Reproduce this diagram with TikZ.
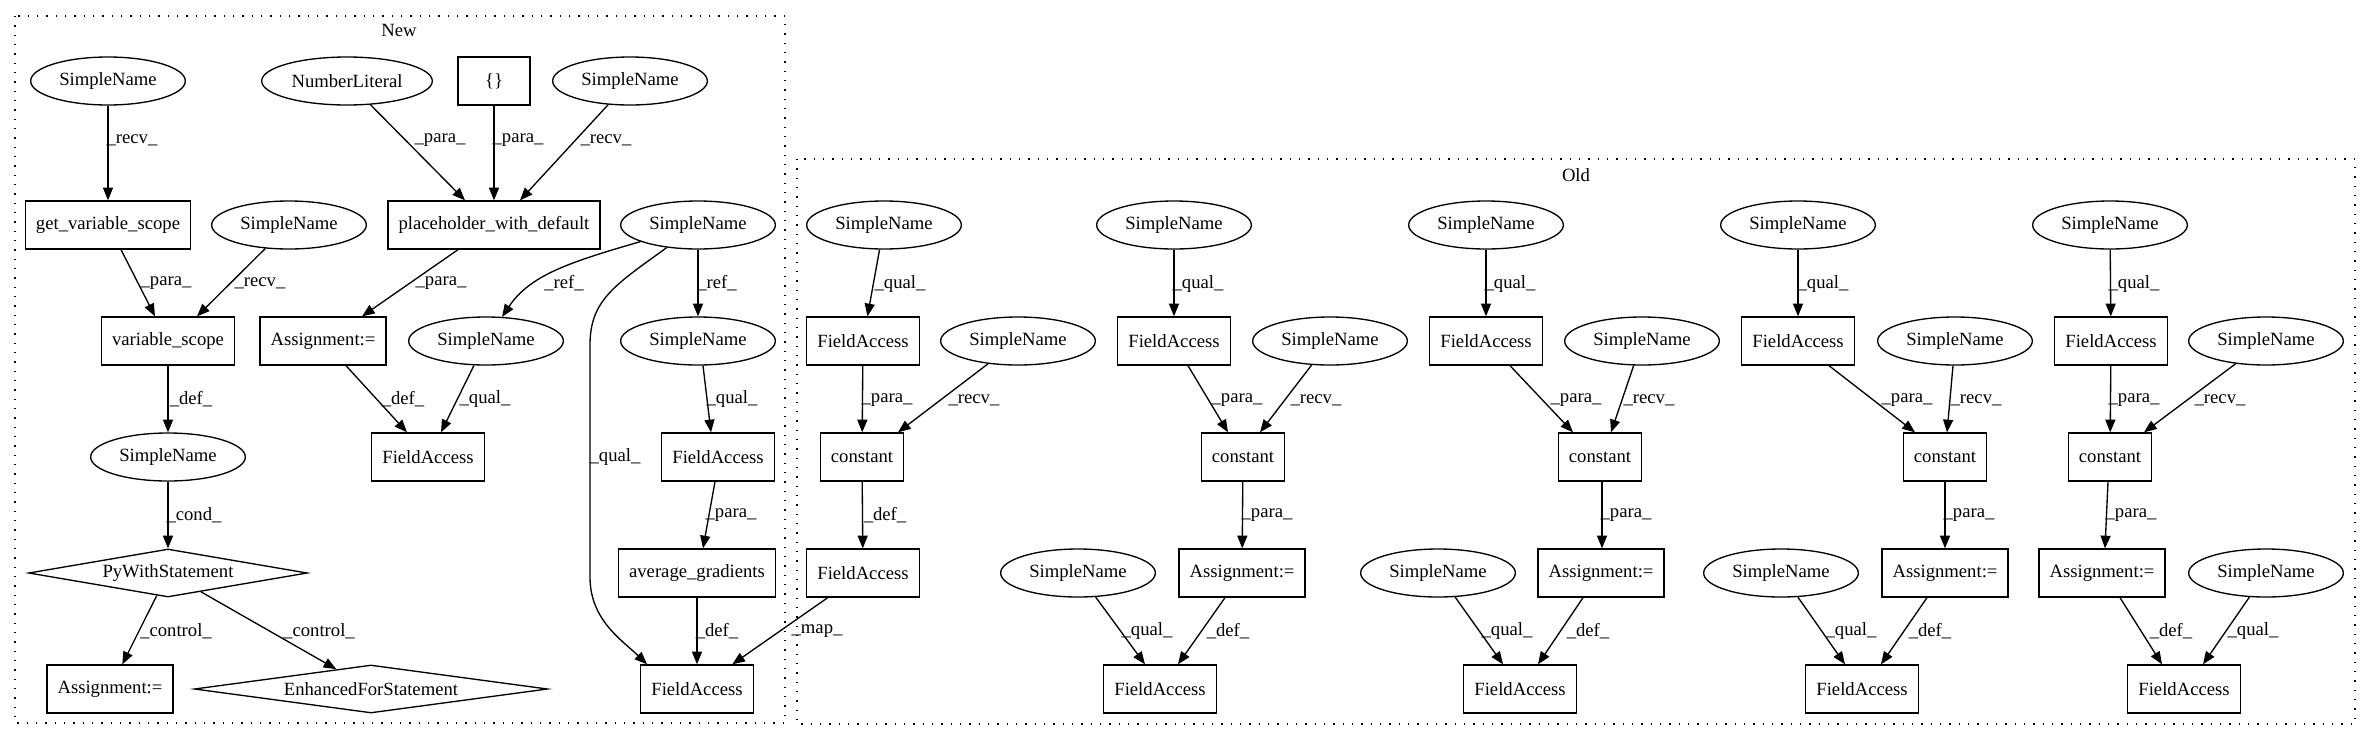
\documentclass[tikz,border=0pt]{standalone}
\usepackage{fontspec}
\setmainfont{Liberation Serif}
\usetikzlibrary{arrows.meta,shapes.geometric,calc}
\begin{document}
\begin{tikzpicture}[x=0.75pt,y=-0.75pt,
  every node/.style={font=\fontsize{14}{16}\selectfont},
  box/.style={draw,line width=1pt,rectangle,minimum height=36pt,minimum width=54pt,inner xsep=8pt,inner ysep=0pt},
  ell/.style={draw,line width=1pt,ellipse,minimum height=36pt,minimum width=116pt,inner sep=0pt},
  dia/.style={draw,line width=1pt,diamond,shape aspect=7,minimum height=36pt,inner sep=0pt},
  conn/.style={draw,line width=1pt,-{Triangle[length=9.5pt,width=7.5pt]}},
  lbl/.style={inner sep=0pt},
  clus/.style={draw,line width=1pt,dash pattern=on 1pt off 6pt}]
\useasboundingbox (0,0) rectangle (2371,740);
\fill[white] (0,0) rectangle (2371,740);
% clusters
\draw[clus] (15,16) rectangle (785,723);
\node[lbl] (tNew) at (399,30) {New};
\draw[clus] (797,159) rectangle (2355,724);
\node[lbl] (tOld) at (1576,175) {Old};
% ---------- New ----------
\node[ell] (snA) at (108,81) {SimpleName};
\node[ell,minimum width=128pt] (nl) at (347,81) {NumberLiteral};
\node[box] (br) at (494,81) {\{\}};
\node[ell] (snB) at (630,81) {SimpleName};
\node[box] (gvs) at (108,225) {get\_variable\_scope};
\node[ell] (snC) at (289,225) {SimpleName};
\node[box] (ph) at (494,225) {placeholder\_with\_default};
\node[ell] (snD) at (698,225) {SimpleName};
\node[box] (vs) at (168,341) {variable\_scope};
\node[box] (asgA) at (323,341) {Assignment:=};
\node[ell] (snE) at (486,341) {SimpleName};
\node[ell] (snF) at (698,341) {SimpleName};
\node[ell] (snG) at (168,457) {SimpleName};
\node[box] (faH) at (428,457) {FieldAccess};
\node[box] (faI) at (718,457) {FieldAccess};
\node[dia,minimum width=209pt] (pyw) at (168,573) {PyWithStatement};
\node[box] (avg) at (697,573) {average\_gradients};
\node[box] (asgB) at (110,689) {Assignment:=};
\node[dia,minimum width=265pt] (efs) at (371,689) {EnhancedForStatement};
\node[box] (faJ) at (697,689) {FieldAccess};
% ---------- Old ----------
\node[ell] (snT1) at (884,225) {SimpleName};
\node[box] (fa1) at (863,341) {FieldAccess};
\node[ell] (snR1) at (1018,341) {SimpleName};
\node[box] (c1) at (862,457) {constant};
\node[box] (faK) at (863,573) {FieldAccess};
\node[ell] (snT2) at (1174,225) {SimpleName};
\node[box] (fa2) at (1174,341) {FieldAccess};
\node[ell] (snR2) at (1330,341) {SimpleName};
\node[box] (c2) at (1243,457) {constant};
\node[box] (asg2) at (1242,573) {Assignment:=};
\node[ell] (snB2) at (1078,573) {SimpleName};
\node[box] (fb2) at (1160,689) {FieldAccess};
\node[ell] (snT3) at (1486,225) {SimpleName};
\node[box] (fa3) at (1486,341) {FieldAccess};
\node[ell] (snR3) at (1642,341) {SimpleName};
\node[box] (c3) at (1600,457) {constant};
\node[box] (asg3) at (1601,573) {Assignment:=};
\node[ell] (snB3) at (1438,573) {SimpleName};
\node[box] (fb3) at (1520,689) {FieldAccess};
\node[ell] (snT4) at (1798,225) {SimpleName};
\node[box] (fa4) at (1798,341) {FieldAccess};
\node[ell] (snR4) at (1955,341) {SimpleName};
\node[box] (c4) at (1945,457) {constant};
\node[box] (asg4) at (1945,573) {Assignment:=};
\node[ell] (snB4) at (1781,573) {SimpleName};
\node[box] (fb4) at (1862,689) {FieldAccess};
\node[ell] (snT5) at (2110,225) {SimpleName};
\node[box] (fa5) at (2111,341) {FieldAccess};
\node[ell] (snR5) at (2266,341) {SimpleName};
\node[box] (c5) at (2110,457) {constant};
\node[box] (asg5) at (2102,573) {Assignment:=};
\node[ell] (snB5) at (2266,573) {SimpleName};
\node[box] (fb5) at (2184,689) {FieldAccess};
% ---------- New edges ----------
\draw[conn] (snA) -- (gvs);
\node[lbl] (l1) at (132,140) {\_recv\_};
\draw[conn] (nl) -- ($(ph.north)+(-29,0)$);
\node[lbl] (l2) at (440,140) {\_para\_};
\draw[conn] (br) -- (ph);
\node[lbl] (l3) at (518,140) {\_para\_};
\draw[conn] (snB) -- ($(ph.north)+(26,0)$);
\node[lbl] (l4) at (606,140) {\_recv\_};
\draw[conn] ($(gvs.south)+(13,0)$) -- ($(vs.north)+(-13,0)$);
\node[lbl] (l5) at (166,283) {\_para\_};
\draw[conn] (snC) -- ($(vs.north)+(29,0)$);
\node[lbl] (l6) at (260,283) {\_recv\_};
\draw[conn] ($(ph.south)+(-36,0)$) -- ($(asgA.north)+(39,0)$);
\node[lbl] (l7) at (441,283) {\_para\_};
\draw[conn] (snD) .. controls (570,262) and (530,275) .. (snE);
\node[lbl] (l8) at (564,283) {\_ref\_};
\draw[conn] (snD) -- (snF);
\node[lbl] (l9) at (717,283) {\_ref\_};
\draw[conn] (snD) .. controls (615,285) and (590,300) .. (590,345) -- (590,577) .. controls (590,620) and (622,640) .. ($(faJ.north west)+(7,0)$);
\node[lbl] (l10) at (615,457) {\_qual\_};
\draw[conn] (vs) -- (snG);
\node[lbl] (l11) at (191,399) {\_def\_};
\draw[conn] ($(asgA.south)+(23,0)$) -- ($(faH.north)+(-21,0)$);
\node[lbl] (l12) at (403,399) {\_def\_};
\draw[conn] (snE) -- ($(faH.north)+(13,0)$);
\node[lbl] (l13) at (485,399) {\_qual\_};
\draw[conn] ($(snF.south)+(5,0)$) -- ($(faI.north)+(-7,0)$);
\node[lbl] (l14) at (732,399) {\_qual\_};
\draw[conn] (snG) -- (pyw);
\node[lbl] (l15) at (194,515) {\_cond\_};
\draw[conn] ($(faI.south)+(-3,0)$) -- ($(avg.north)+(6,0)$);
\node[lbl] (l16) at (731,515) {\_para\_};
\draw[conn] (pyw) -- (asgB);
\node[lbl] (l17) at (176,631) {\_control\_};
\draw[conn] (pyw) -- (efs);
\node[lbl] (l18) at (319,631) {\_control\_};
\draw[conn] (avg) -- (faJ);
\node[lbl] (l19) at (717,631) {\_def\_};
\draw[conn] (faK) -- (faJ);
\node[lbl] (l20) at (817,631) {\_map\_};
% ---------- Old edges ----------
% group 1
\draw[conn] (snT1) -- (fa1);
\node[lbl] (m1) at (900,284) {\_qual\_};
\draw[conn] (fa1) -- (c1);
\node[lbl] (m2) at (887,400) {\_para\_};
\draw[conn] (snR1) -- ($(c1.north)+(36,0)$);
\node[lbl] (m3) at (974,400) {\_recv\_};
\draw[conn] (c1) -- (faK);
\node[lbl] (m4) at (885,515) {\_def\_};
% group 2
\draw[conn] (snT2) -- (fa2);
\node[lbl] (m5) at (1198,284) {\_qual\_};
\draw[conn] ($(fa2.south)+(14,0)$) -- ($(c2.north)+(-15,0)$);
\node[lbl] (m6) at (1237,400) {\_para\_};
\draw[conn] (snR2) -- ($(c2.north)+(17,0)$);
\node[lbl] (m7) at (1316,400) {\_recv\_};
\draw[conn] (c2) -- (asg2);
\node[lbl] (m8) at (1267,515) {\_para\_};
\draw[conn] (snB2) -- ($(fb2.north)+(-15,0)$);
\node[lbl] (m9) at (1147,631) {\_qual\_};
\draw[conn] ($(asg2.south)+(-17,0)$) -- ($(fb2.north)+(18,0)$);
\node[lbl] (m10) at (1228,631) {\_def\_};
% group 3
\draw[conn] (snT3) -- (fa3);
\node[lbl] (m11) at (1510,284) {\_qual\_};
\draw[conn] ($(fa3.south)+(24,0)$) -- ($(c3.north)+(-27,0)$);
\node[lbl] (m12) at (1576,400) {\_para\_};
\draw[conn] (snR3) -- ($(c3.north)+(11,0)$);
\node[lbl] (m13) at (1649,400) {\_recv\_};
\draw[conn] ($(c3.south)+(2,0)$) -- ($(asg3.north)+(1,0)$);
\node[lbl] (m14) at (1626,515) {\_para\_};
\draw[conn] (snB3) -- ($(fb3.north)+(-17,0)$);
\node[lbl] (m15) at (1507,631) {\_qual\_};
\draw[conn] ($(asg3.south)+(-18,0)$) -- ($(fb3.north)+(18,0)$);
\node[lbl] (m16) at (1588,631) {\_def\_};
% group 4
\draw[conn] (snT4) -- (fa4);
\node[lbl] (m17) at (1823,284) {\_qual\_};
\draw[conn] ($(fa4.south)+(31,0)$) -- ($(c4.north)+(-30,0)$);
\node[lbl] (m18) at (1907,400) {\_para\_};
\draw[conn] ($(snR4.south)+(-2,0)$) -- ($(c4.north)+(2,0)$);
\node[lbl] (m19) at (1976,400) {\_recv\_};
\draw[conn] (c4) -- (asg4);
\node[lbl] (m20) at (1969,515) {\_para\_};
\draw[conn] (snB4) -- ($(fb4.north)+(-17,0)$);
\node[lbl] (m21) at (1851,631) {\_qual\_};
\draw[conn] ($(asg4.south)+(-18,0)$) -- ($(fb4.north)+(19,0)$);
\node[lbl] (m22) at (1930,631) {\_def\_};
% group 5
\draw[conn] (snT5) -- (fa5);
\node[lbl] (m23) at (2134,284) {\_qual\_};
\draw[conn] (fa5) -- (c5);
\node[lbl] (m24) at (2134,400) {\_para\_};
\draw[conn] (snR5) -- ($(c5.north)+(34,0)$);
\node[lbl] (m25) at (2220,400) {\_recv\_};
\draw[conn] ($(c5.south)+(-2,0)$) -- ($(asg5.north)+(3,0)$);
\node[lbl] (m26) at (2131,515) {\_para\_};
\draw[conn] ($(asg5.south)+(18,0)$) -- ($(fb5.north)+(-22,0)$);
\node[lbl] (m27) at (2171,631) {\_def\_};
\draw[conn] (snB5) -- ($(fb5.north)+(19,0)$);
\node[lbl] (m28) at (2253,631) {\_qual\_};
\end{tikzpicture}
\end{document}
